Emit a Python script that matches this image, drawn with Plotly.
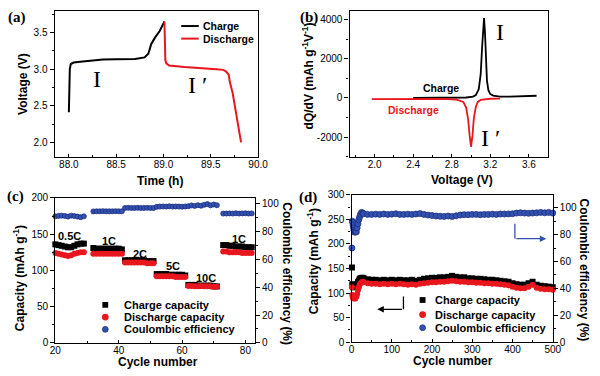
import plotly.graph_objects as go

# ---------------- data ----------------
# (a) voltage profile
a_charge_t = [88.00, 88.003, 88.006, 88.01, 88.02, 88.05, 88.12, 88.2, 88.36, 88.5, 88.7, 88.8, 88.84, 88.87, 88.91, 88.96, 89.01]
a_charge_v = [2.41, 2.70, 2.85, 3.00, 3.07, 3.09, 3.10, 3.11, 3.13, 3.135, 3.14, 3.16, 3.21, 3.34, 3.43, 3.52, 3.65]
a_dis_t = [89.01, 89.012, 89.02, 89.03, 89.06, 89.22, 89.39, 89.56, 89.63, 89.66, 89.69, 89.70, 89.73, 89.82]
a_dis_v = [3.65, 3.21, 3.12, 3.08, 3.05, 3.03, 3.02, 3.00, 2.99, 2.97, 2.92, 2.83, 2.68, 2.00]

# (b) dQ/dV
b_charge_v = [2.40, 2.6, 2.8, 2.95, 3.02, 3.05, 3.08, 3.10, 3.115, 3.125, 3.135, 3.145, 3.155, 3.165, 3.18, 3.20, 3.23, 3.3, 3.4, 3.5, 3.6, 3.68]
b_charge_dq = [0, 5, 10, 25, 70, 150, 450, 1200, 2600, 3700, 4080, 3300, 1900, 900, 400, 200, 120, 70, 70, 80, 100, 115]
b_dis_v = [1.97, 2.2, 2.5, 2.7, 2.85, 2.92, 2.95, 2.97, 2.985, 3.0, 3.015, 3.03, 3.05, 3.07, 3.10, 3.15, 3.2, 3.3]
b_dis_dq = [-60, -55, -50, -50, -80, -200, -500, -1100, -1900, -2500, -1900, -1000, -450, -200, -100, -60, -40, -30]

# (c) rate capability
c_cycle = [20, 21, 22, 23, 24, 25, 26, 27, 28, 29,
           32, 33, 34, 35, 36, 37, 38, 39, 40, 41,
           42, 43, 44, 45, 46, 47, 48, 49, 50, 51,
           52, 53, 54, 55, 56, 57, 58, 59, 60, 61,
           62, 63, 64, 65, 66, 67, 68, 69, 70, 71,
           73, 74, 75, 76, 77, 78, 79, 80, 81, 82]
c_charge = [136, 135, 134, 133, 132, 132, 134, 136, 137, 137,
            131, 130, 130, 130, 130, 130, 130, 130, 130, 129,
            114, 114, 114, 114, 114, 114, 114, 113, 113, 113,
            95, 95, 95, 95, 94, 94, 94, 94, 94, 93,
            80, 80, 80, 79, 79, 79, 79, 79, 78, 78,
            135, 135, 134, 134, 133, 133, 133, 132, 132, 132]
c_discharge = [124, 123, 122, 121, 120, 121, 123, 124, 125, 125,
               123, 123, 123, 123, 123, 123, 123, 123, 123, 123,
               111, 111, 111, 111, 111, 111, 111, 110, 110, 110,
               92, 92, 92, 92, 92, 92, 91, 91, 91, 91,
               78.5, 78.5, 78, 78, 78.5, 78, 78, 78, 77.5, 77.5,
               126, 126, 125, 125, 125, 125, 124, 124, 124, 124]
c_ce = [91.0, 91.3, 91.5, 91.3, 90.8, 91.5, 91.2, 90.8, 90.4, 91.0,
        94.5, 94.6, 94.6, 94.7, 94.6, 94.6, 94.6, 94.7, 94.6, 94.6,
        97.0, 97.1, 97.0, 97.0, 97.1, 97.0, 97.0, 97.1, 97.0, 97.0,
        97.8, 98.0, 98.1, 98.0, 98.2, 98.0, 98.1, 98.0, 97.9, 98.1,
        98.3, 98.8, 98.5, 99.0, 98.6, 99.3, 99.8, 98.9, 99.5, 99.0,
        93.0, 93.0, 93.1, 93.0, 93.2, 93.0, 93.1, 93.2, 93.0, 93.1]
c_rate_labels = ["0.5C", "1C", "2C", "5C", "10C", "1C"]
c_rate_x = [24.6, 36.9, 46.7, 57.2, 67.5, 77.9]
c_rate_y = [148, 141, 123, 105.6, 89.5, 143.4]

# (d) long-term cycling
d_cycle = [1, 2, 3, 4, 5, 6, 7, 8, 9, 10, 12, 14, 16, 18, 20, 22, 25, 28, 30,
           40, 50, 60, 70, 80, 90, 100, 110, 120, 130, 140, 150, 160, 170, 180, 190,
           200, 210, 220, 230, 240, 250, 260, 270, 280, 290, 300, 310, 320, 330, 340,
           350, 360, 370, 380, 390, 400, 410, 420, 430, 440, 450, 460, 470, 480, 490, 500]
d_charge = [152, 118, 114, 112, 113, 114, 115, 113, 112, 114, 116, 118, 122, 125, 128, 130, 131, 131, 130,
            128, 127, 127, 126, 127, 126, 127, 126, 127, 126, 126, 127, 125, 127, 129, 130,
            131, 131, 132, 132, 133, 135, 133, 132, 132, 130, 130, 129, 129, 128, 127,
            127, 126, 125, 124, 123, 120, 118, 117, 117, 120, 123, 117, 115, 114, 113, 112]
d_discharge = [112, 96, 92, 90, 89, 90, 91, 90, 89, 90, 93, 98, 106, 112, 117, 120, 122, 123, 122,
               120, 119, 119, 118, 119, 118, 119, 118, 119, 118, 117, 118, 117, 119, 120, 121,
               122, 122, 123, 123, 124, 125, 124, 123, 123, 122, 122, 121, 121, 120, 120,
               119, 119, 118, 117, 116, 113, 111, 110, 110, 113, 117, 111, 109, 108, 108, 107]
d_ce = [70, 90, 89, 87, 85, 83, 82, 82, 82, 82, 82, 85, 88, 91, 93, 95, 96.5, 96, 95.5,
        95, 95, 95.2, 95, 95.3, 95, 95.2, 95.5, 95, 95, 95.2, 95, 95.3, 95.6, 95, 94.5,
        94.2, 93.8, 93.6, 93.5, 93.8, 93.4, 94, 94.5, 94.8, 94.8, 95, 95, 94.8, 95, 95,
        95.2, 95, 95.3, 95.3, 95.4, 95.5, 96, 96.2, 96, 95.8, 96, 96.2, 96.5, 96.2, 96.5, 96]

# ---------------- styling ----------------
BLACK = "#000000"
RED = "#e8161d"
BLUE = "#3352b0"
BLUE_EDGE = "#1c2f80"
SANS = "Liberation Sans, Arial, sans-serif"
SERIF = "Liberation Serif, Times New Roman, serif"

W, H = 600, 376


def px(x):
    return x / W


def py(y):
    return 1 - y / H


def axis(domain, rng, dtick, minor_dtick, anchor, fmt=None, tickdir="outside", standoff=0, **kw):
    d = dict(domain=domain, range=rng, anchor=anchor, dtick=dtick,
             showline=True, linewidth=1.3, linecolor=BLACK, mirror=True,
             ticks=tickdir, ticklen=4, tickwidth=1.2, tickcolor=BLACK,
             ticklabelstandoff=standoff,
             minor=dict(ticks=tickdir, ticklen=2, tickwidth=1, dtick=minor_dtick, tickcolor=BLACK),
             showgrid=False, zeroline=False,
             tickfont=dict(family=SANS, size=10, color=BLACK))
    if fmt:
        d["tickformat"] = fmt
    d.update(kw)
    return d


def xaxis(domain, rng, dtick, minor_dtick, anchor, fmt=None, **kw):
    return axis(domain, rng, dtick, minor_dtick, anchor, fmt, tickdir="inside", standoff=-2, ticklen=3, **kw)


fig = go.Figure()

# (a)
fig.add_trace(go.Scatter(x=a_charge_t, y=a_charge_v, mode="lines", name="Charge",
                         line=dict(color=BLACK, width=2), xaxis="x", yaxis="y", showlegend=False))
fig.add_trace(go.Scatter(x=a_dis_t, y=a_dis_v, mode="lines", name="Discharge",
                         line=dict(color=RED, width=2), xaxis="x", yaxis="y", showlegend=False))
# (b)
fig.add_trace(go.Scatter(x=b_charge_v, y=b_charge_dq, mode="lines", name="Charge",
                         line=dict(color=BLACK, width=1.8), xaxis="x2", yaxis="y2", showlegend=False))
fig.add_trace(go.Scatter(x=b_dis_v, y=b_dis_dq, mode="lines", name="Discharge",
                         line=dict(color=RED, width=1.8), xaxis="x2", yaxis="y2", showlegend=False))
# (c)
fig.add_trace(go.Scatter(x=c_cycle, y=c_charge, mode="markers", name="Charge capacity",
                         marker=dict(symbol="square", size=6, color=BLACK), cliponaxis=False,
                         xaxis="x3", yaxis="y3", showlegend=False))
fig.add_trace(go.Scatter(x=c_cycle, y=c_discharge, mode="markers", name="Discharge capacity",
                         marker=dict(symbol="circle", size=6, color=RED), cliponaxis=False,
                         xaxis="x3", yaxis="y3", showlegend=False))
fig.add_trace(go.Scatter(x=c_cycle, y=c_ce, mode="markers", name="Coulombic efficiency",
                         marker=dict(symbol="circle", size=5, color=BLUE, line=dict(color=BLUE_EDGE, width=0.8)),
                         cliponaxis=False, xaxis="x3", yaxis="y5", showlegend=False))
# (d)
fig.add_trace(go.Scatter(x=d_cycle, y=d_charge, mode="markers", name="Charge capacity",
                         marker=dict(symbol="square", size=6, color=BLACK), cliponaxis=False,
                         xaxis="x4", yaxis="y4", showlegend=False))
fig.add_trace(go.Scatter(x=d_cycle, y=d_discharge, mode="markers", name="Discharge capacity",
                         marker=dict(symbol="circle", size=6, color=RED), cliponaxis=False,
                         xaxis="x4", yaxis="y4", showlegend=False))
fig.add_trace(go.Scatter(x=d_cycle, y=d_ce, mode="markers", name="Coulombic efficiency",
                         marker=dict(symbol="circle", size=6, color=BLUE, line=dict(color=BLUE_EDGE, width=0.8)),
                         cliponaxis=False, xaxis="x4", yaxis="y6", showlegend=False))

layout = dict(
    width=W, height=H, autosize=False,
    margin=dict(l=0, r=0, t=0, b=0),
    paper_bgcolor="white", plot_bgcolor="white",
    showlegend=False,
    font=dict(family=SANS, color=BLACK),
    xaxis=xaxis([px(50), px(259)], [87.85, 90.0], 0.5, 0.25, "y", ".1f"),
    yaxis=axis([py(156), py(4.7)], [1.8, 3.8], 0.5, 0.25, "x", ".1f"),
    xaxis2=xaxis([px(353), px(557)], [1.74, 3.8], 0.4, 0.2, "y2", ".1f"),
    yaxis2=axis([py(155.7), py(5)], [-3000, 4450], 2000, 1000, "x2",
                tickmode="array", tickvals=[-2000, 0, 2000, 4000], ticktext=["-2000", "0", "2000", "4000"]),
    xaxis3=xaxis([px(50.7), px(255.7)], [20, 83], 20, 10, "y3"),
    yaxis3=axis([py(348), py(198.3)], [0, 200], 50, 25, "x3"),
    yaxis5=axis([py(348), py(198.3)], [0, 104.2], 20, 10, "x3", overlaying="y3", side="right", mirror=False),
    xaxis4=xaxis([px(355), px(561.7)], [0, 500], 100, 50, "y4"),
    yaxis4=axis([py(347.3), py(195)], [0, 300], 50, 25, "x4"),
    yaxis6=axis([py(347.3), py(195)], [0, 109.6], 20, 10, "x4", overlaying="y4", side="right", mirror=False),
)
fig.update_layout(**layout)

ann = []


def ptext(x, y, text, size=12, bold=True, color=BLACK, angle=0, family=SANS, xanchor="center"):
    t = f"<b>{text}</b>" if bold else text
    ann.append(dict(x=px(x), y=py(y), xref="paper", yref="paper", text=t, showarrow=False,
                    textangle=angle, xanchor=xanchor, yanchor="middle",
                    font=dict(family=family, size=size, color=color)))


# panel labels
ptext(11, 12, "(a)", size=15, family=SERIF)
ptext(311, 12, "(b)", size=15, family=SERIF)
ptext(10, 197, "(c)", size=15, family=SERIF)
ptext(310, 198, "(d)", size=15, family=SERIF)

# axis titles
ptext(18, 81, "Voltage (V)", angle=-90)
ptext(158, 181, "Time (h)")
ptext(310, 72, "dQ/dV (mAh g<sup>-1</sup>V<sup>-1</sup>)", angle=-90)
ptext(468, 180, "Voltage (V)")
ptext(13.5, 281, "Capacity (mAh g<sup>-1</sup>)", angle=-90)
ptext(156, 367.5, "Cycle number")
ptext(288.5, 277, "Coulombic efficiency (%)", angle=90)
ptext(315, 264, "Capacity (mAh g<sup>-1</sup>)", angle=-90)
ptext(459, 366.5, "Cycle number")
ptext(593.5, 273, "Coulombic efficiency (%)", angle=90)

# legend (a)
ptext(200, 20.7, "Charge", size=10.5, xanchor="left")
ptext(200, 33.7, "Discharge", size=10.5, xanchor="left")

# legend (c)
ptext(119, 308.7, "Charge capacity", size=11, xanchor="left")
ptext(119, 321.3, "Discharge capacity", size=11, xanchor="left")
ptext(119, 334, "Coulombic efficiency", size=11, xanchor="left")
# legend (d)
ptext(439, 303.7, "Charge capacity", size=11, xanchor="left")
ptext(439, 318.7, "Discharge capacity", size=11, xanchor="left")
ptext(439, 332.3, "Coulombic efficiency", size=11, xanchor="left")

# (a) region labels
ann.append(dict(x=88.30, y=2.87, xref="x", yref="y", text="I", showarrow=False,
                font=dict(family=SERIF, size=24, color=BLACK)))
ann.append(dict(x=89.36, y=2.78, xref="x", yref="y", text="I \u2032", showarrow=False,
                font=dict(family=SERIF, size=24, color=BLACK)))
# (b) labels
ann.append(dict(x=2.69, y=510, xref="x2", yref="y2", text="<b>Charge</b>", showarrow=False,
                font=dict(family=SANS, size=10.5, color=BLACK)))
ann.append(dict(x=2.40, y=-590, xref="x2", yref="y2", text="<b>Discharge</b>", showarrow=False,
                font=dict(family=SANS, size=10.5, color=RED)))
ann.append(dict(x=3.30, y=3350, xref="x2", yref="y2", text="I", showarrow=False,
                font=dict(family=SERIF, size=24, color=BLACK)))
ann.append(dict(x=3.20, y=-2050, xref="x2", yref="y2", text="I \u2032", showarrow=False,
                font=dict(family=SERIF, size=24, color=BLACK)))
# (c) rate labels
for lbl, xx, yy in zip(c_rate_labels, c_rate_x, c_rate_y):
    ann.append(dict(x=xx, y=yy, xref="x3", yref="y3", text=f"<b>{lbl}</b>", showarrow=False,
                    font=dict(family=SANS, size=11, color=BLACK)))
# (d) arrows
ann.append(dict(x=64, y=67, ax=129, ay=67, xref="x4", yref="y4", axref="x4", ayref="y4",
                text="", showarrow=True, arrowhead=2, arrowsize=1, arrowwidth=1.3, arrowcolor=BLACK))
ann.append(dict(x=484, y=77, ax=406, ay=77, xref="x4", yref="y6", axref="x4", ayref="y6",
                text="", showarrow=True, arrowhead=2, arrowsize=1, arrowwidth=1.3, arrowcolor=BLUE))

shapes = [
    # legend (a) lines
    dict(type="line", xref="paper", yref="paper", x0=px(180), x1=px(198), y0=py(20.7), y1=py(20.7),
         line=dict(color=BLACK, width=2)),
    dict(type="line", xref="paper", yref="paper", x0=px(180), x1=px(198), y0=py(33.7), y1=py(33.7),
         line=dict(color=RED, width=2)),
    # legend (c) symbols
    dict(type="rect", xref="paper", yref="paper", x0=px(99), x1=px(105), y0=py(311.7), y1=py(305.7),
         fillcolor=BLACK, line=dict(width=0)),
    dict(type="circle", xref="paper", yref="paper", x0=px(98.5), x1=px(105.5), y0=py(324.8), y1=py(317.8),
         fillcolor=RED, line=dict(width=0)),
    dict(type="circle", xref="paper", yref="paper", x0=px(99), x1=px(105), y0=py(337), y1=py(331),
         fillcolor=BLUE, line=dict(color=BLUE_EDGE, width=0.8)),
    # legend (d) symbols
    dict(type="rect", xref="paper", yref="paper", x0=px(425), x1=px(431), y0=py(306.7), y1=py(300.7),
         fillcolor=BLACK, line=dict(width=0)),
    dict(type="circle", xref="paper", yref="paper", x0=px(424.5), x1=px(431.5), y0=py(322.2), y1=py(315.2),
         fillcolor=RED, line=dict(width=0)),
    dict(type="circle", xref="paper", yref="paper", x0=px(425), x1=px(431), y0=py(335.3), y1=py(329.3),
         fillcolor=BLUE, line=dict(color=BLUE_EDGE, width=0.8)),
    # (d) arrow vertical stems
    dict(type="line", xref="x4", yref="y4", x0=129, x1=129, y0=93, y1=67, line=dict(color=BLACK, width=1.3)),
    dict(type="line", xref="x4", yref="y6", x0=406, x1=406, y0=88, y1=77, line=dict(color=BLUE, width=1.3)),
]

fig.update_layout(annotations=ann, shapes=shapes)
# remove the browser's default 8px body margin so the 600x376 figure fills the window exactly
fig.write_html("out.html", config={"displayModeBar": False},
               post_script="document.body.style.margin='0px';document.body.style.overflow='hidden';")
